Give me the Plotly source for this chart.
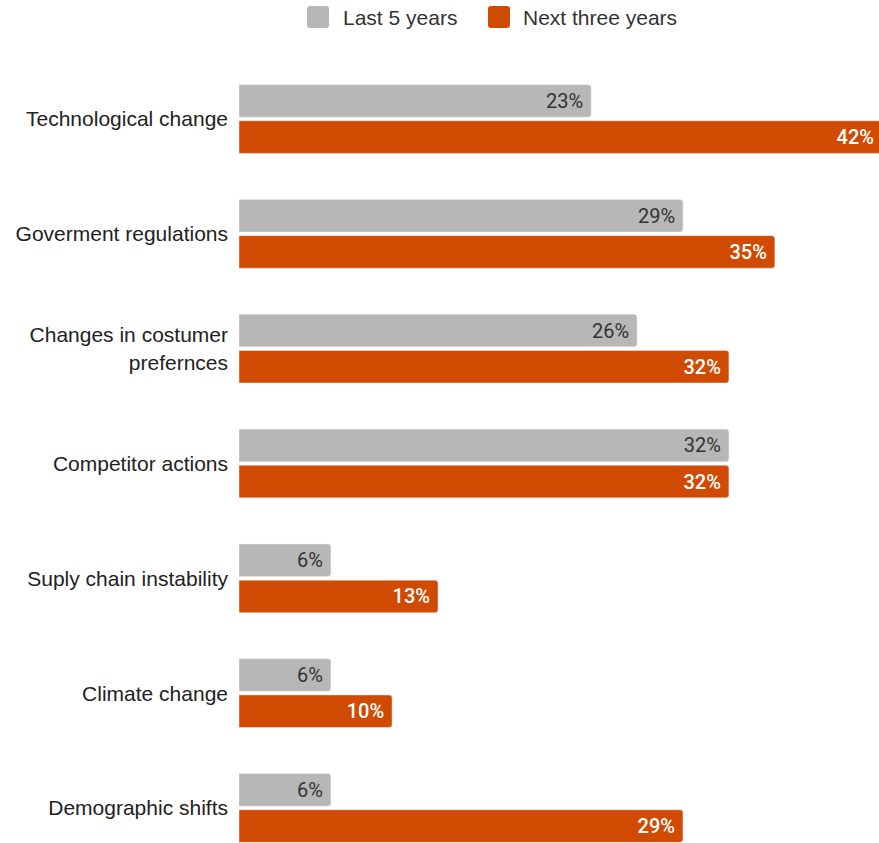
import plotly.graph_objects as go

categories = [
    "Technological change",
    "Goverment regulations",
    "Changes in costumer<br>prefernces",
    "Competitor actions",
    "Suply chain instability",
    "Climate change",
    "Demographic shifts",
]
last_5_years = [23, 29, 26, 32, 6, 6, 6]
next_three_years = [42, 35, 32, 32, 13, 10, 29]
series_names = ["Last 5 years", "Next three years"]

GRAY = "#b7b7b7"
ORANGE = "#d04a02"

W, H = 879, 843
L, R, T, B = 239, 0, 60, 0

fig = go.Figure()
fig.add_trace(go.Bar(
    y=categories, x=last_5_years, orientation="h", name=series_names[0],
    marker=dict(color=GRAY), showlegend=False,
    texttemplate="%{x}%\u00a0", textposition="inside", insidetextanchor="end",
    textfont=dict(family="Roboto", size=20, color="#333333"),
    hoverinfo="skip",
))
fig.add_trace(go.Bar(
    y=categories, x=next_three_years, orientation="h", name=series_names[1],
    marker=dict(color=ORANGE), showlegend=False,
    texttemplate="%{x}%\u00a0", textposition="inside", insidetextanchor="end",
    textfont=dict(family="Roboto", size=20, color="#ffffff", weight=500),
    hoverinfo="skip",
))

# Legend drawn as rounded swatches with labels above the plot
pw = W - L - R
ph = H - T - B
def px_x(p):
    return (p - L) / pw
def px_y(p):
    return (H - B - p) / ph

def rounded_square(x0, y0, size, r):
    # SVG path in paper coordinates for a square with rounded corners
    xa, xb = px_x(x0), px_x(x0 + size)
    ya, yb = px_y(y0 + size), px_y(y0)
    rx, ry = r / pw, r / ph
    return (f"M {xa+rx},{ya} L {xb-rx},{ya} Q {xb},{ya} {xb},{ya+ry} "
            f"L {xb},{yb-ry} Q {xb},{yb} {xb-rx},{yb} L {xa+rx},{yb} "
            f"Q {xa},{yb} {xa},{yb-ry} L {xa},{ya+ry} Q {xa},{ya} {xa+rx},{ya} Z")

legend_items = [(307, 343, GRAY, series_names[0]), (488, 523, ORANGE, series_names[1])]
shapes = []
annotations = []
for sx, tx, col, label in legend_items:
    shapes.append(dict(
        type="path", xref="paper", yref="paper",
        path=rounded_square(sx, 6, 22, 3),
        fillcolor=col, line=dict(width=0),
    ))
    annotations.append(dict(
        xref="paper", yref="paper", x=px_x(tx - 2), y=px_y(17),
        xanchor="left", yanchor="middle", showarrow=False, text=label,
        font=dict(family="Liberation Sans, Arial", size=21, color="#333333"),
    ))

fig.update_layout(
    width=W, height=H,
    margin=dict(l=L, r=R, t=T, b=B, pad=0),
    barmode="group", bargap=0.37, bargroupgap=0.1, barcornerradius=3,
    plot_bgcolor="white", paper_bgcolor="white",
    showlegend=False,
    shapes=shapes, annotations=annotations,
    uniformtext=dict(mode=False),
)
fig.update_xaxes(range=[0, pw / 15.31], visible=False, fixedrange=True)
fig.update_yaxes(
    range=[6.305, -0.514], showgrid=False, zeroline=False, showline=False,
    ticks="", ticklabelstandoff=10,
    tickfont=dict(family="Liberation Sans, Arial", size=21, color="#222222"),
)

fig.write_html("out.html")
